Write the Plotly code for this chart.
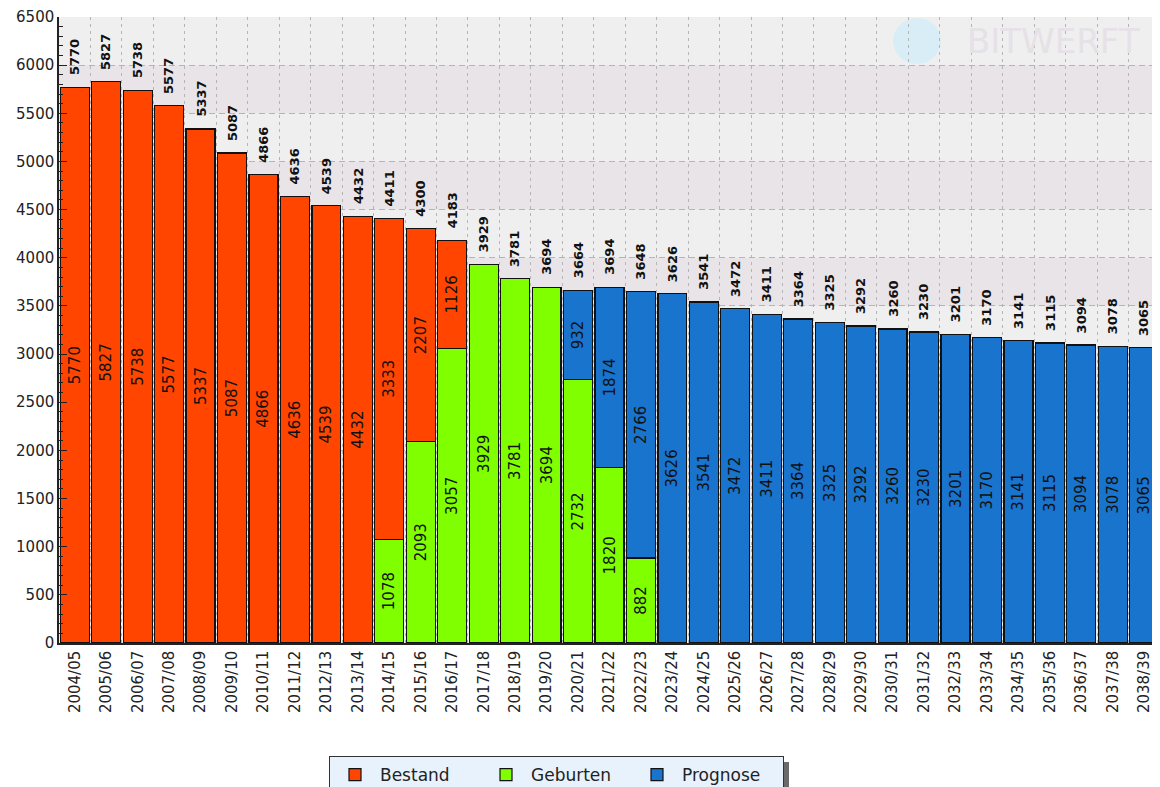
import plotly.graph_objects as go

categories = ["2004/05","2005/06","2006/07","2007/08","2008/09","2009/10","2010/11","2011/12",
              "2012/13","2013/14","2014/15","2015/16","2016/17","2017/18","2018/19","2019/20",
              "2020/21","2021/22","2022/23","2023/24","2024/25","2025/26","2026/27","2027/28",
              "2028/29","2029/30","2030/31","2031/32","2032/33","2033/34","2034/35","2035/36",
              "2036/37","2037/38","2038/39"]

bestand = [5770,5827,5738,5577,5337,5087,4866,4636,4539,4432,3333,2207,1126] + [None]*22
geburten = [None]*10 + [1078,2093,3057,3929,3781,3694,2732,1820,882] + [None]*16
prognose = [None]*16 + [932,1874,2766,3626,3541,3472,3411,3364,3325,3292,3260,3230,3201,
                        3170,3141,3115,3094,3078,3065]

totals = [sum(v for v in (a, b, c) if v) for a, b, c in zip(bestand, geburten, prognose)]

FONT = "DejaVu Sans"
fig = go.Figure()

def add(name, vals, color, rank):
    fig.add_trace(go.Bar(
        name=name, x=categories, y=vals,
        marker=dict(color=color, line=dict(color="#111", width=1.2)),
        text=[str(v) if v else "" for v in vals],
        textposition="inside", insidetextanchor="middle", textangle=-90,
        textfont=dict(family=FONT, size=15, color="#111"),
        constraintext="none", legendrank=rank, cliponaxis=False,
    ))

add("Geburten", geburten, "#7fff00", 2)
add("Bestand", bestand, "#ff4500", 1)
add("Prognose", prognose, "#1874cd", 3)

for c, t in zip(categories, totals):
    fig.add_annotation(x=c, y=t, text=f"<b>{t}</b>", textangle=-90, showarrow=False,
                       yanchor="bottom", yshift=10,
                       font=dict(family=FONT, size=13, color="#111"))

# page body has an 8px margin: plot area should sit at x 59..1160, y 17..643 in the window
OX, OY = 59, 17
PW, PH = 1101, 626
def px(x): return (x - OX) / PW
def py(y): return (OY + PH - y) / PH

shapes = []
for k in range(13):
    if k % 2 == 1:
        shapes.append(dict(type="rect", xref="paper", yref="y", x0=0, x1=1,
                           y0=k*500, y1=(k+1)*500, fillcolor="#e8e4e8",
                           line_width=0, layer="below"))
shapes.append(dict(type="circle", xref="paper", yref="paper",
                   x0=px(893), x1=px(941), y0=py(64), y1=py(18),
                   fillcolor="#d9edf6", line_width=0, layer="below"))
shapes.append(dict(type="rect", xref="paper", yref="paper",
                   x0=px(335), x1=px(789), y0=py(795), y1=py(762),
                   fillcolor="#6a6a6a", line_width=0))

fig.add_annotation(text="BITWERFT", xref="paper", yref="paper",
                   x=px(1053), y=py(41), xanchor="center", yanchor="middle",
                   showarrow=False,
                   font=dict(family=FONT, size=34, color="#e6e1e6"))

fig.update_layout(
    width=1152, height=779,
    barmode="stack", bargap=0.08,
    margin=dict(l=51, r=0, t=9, b=144, autoexpand=False),
    plot_bgcolor="#efeff0", paper_bgcolor="#ffffff",
    font=dict(family=FONT, size=13, color="#222"),
    shapes=shapes,
    showlegend=True,
    legend=dict(orientation="h", x=px(329), xanchor="left",
                y=py(756), yanchor="top",
                bgcolor="#e8f2fc", bordercolor="#333", borderwidth=1,
                font=dict(family=FONT, size=17, color="#222"),
                itemwidth=40, entrywidth=96, entrywidthmode="pixels",
                traceorder="normal"),
    xaxis=dict(type="category", range=[-0.5, 34.5], tickangle=-90, automargin=False,
               tickson="boundaries", showgrid=True, gridcolor="#b5b5b5",
               griddash="3px,4px", gridwidth=1, ticks="",
               showline=True, linecolor="#222", linewidth=1.5,
               tickfont=dict(family=FONT, size=15, color="#222")),
    yaxis=dict(range=[0, 6500], dtick=500, showgrid=True, gridcolor="#b5b5b5",
               griddash="6px,4px", gridwidth=1, zeroline=False, automargin=False,
               showline=True, linecolor="#222", linewidth=1.5,
               ticks="inside", ticklen=8, tickcolor="#222",
               minor=dict(dtick=100, ticks="inside", ticklen=4, tickcolor="#222", showgrid=False),
               tickfont=dict(family=FONT, size=15, color="#222")),
)

fig.write_html("out.html")
